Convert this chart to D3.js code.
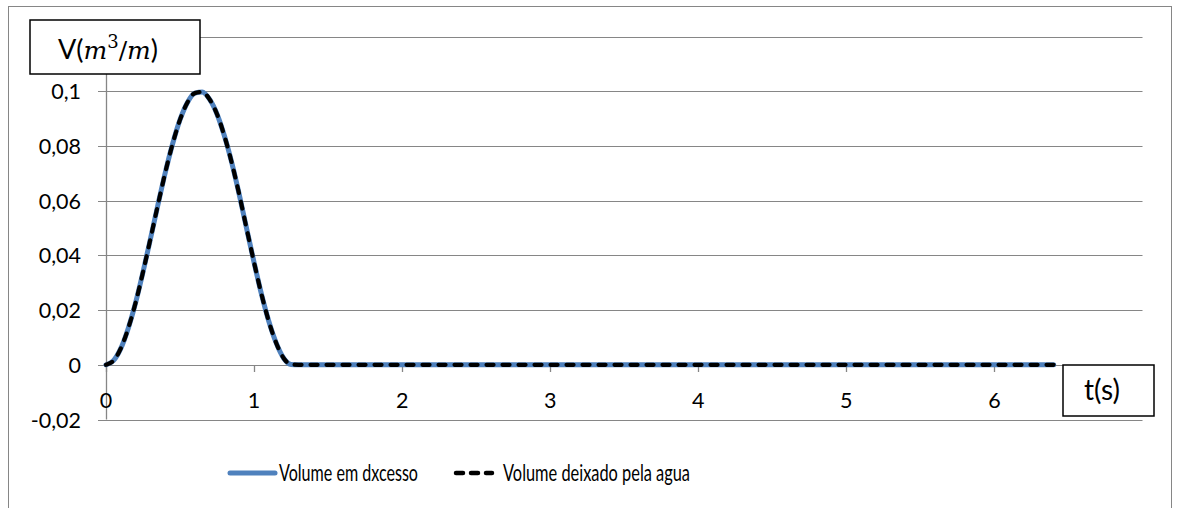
<!DOCTYPE html>
<html><head><meta charset="utf-8">
<script src="https://cdn.jsdelivr.net/npm/d3@7"></script>
<style>html,body{margin:0;padding:0;background:#fff;}svg{display:block;}</style>
</head><body>
<svg id="c" width="1178" height="508"></svg>
<script>
const times = [0,0.05,0.1,0.15,0.2,0.25,0.3,0.35,0.4,0.45,0.5,0.55,0.6,0.65,0.7,0.75,0.8,0.85,0.9,0.95,1.0,1.05,1.1,1.15,1.2,1.25,1.3,1.5,2,2.5,3,3.5,4,4.5,5,5.5,6,6.4];
const volumeExcesso = [0,0.0015,0.006,0.0133,0.0227,0.0339,0.046,0.0583,0.0702,0.0808,0.0896,0.0959,0.0993,0.0997,0.097,0.0916,0.0836,0.0737,0.0622,0.0497,0.0374,0.0258,0.0158,0.0079,0.0024,0.0001,0,0,0,0,0,0,0,0,0,0,0,0];
const volumeDeixado = [0,0.0015,0.006,0.0133,0.0227,0.0339,0.046,0.0583,0.0702,0.0808,0.0896,0.0959,0.0993,0.0997,0.097,0.0916,0.0836,0.0737,0.0622,0.0497,0.0374,0.0258,0.0158,0.0079,0.0024,0.0001,0,0,0,0,0,0,0,0,0,0,0,0];
const yTicks = [-0.02,0,0.02,0.04,0.06,0.08,0.1,0.12];
const yTickLabels = ["-0,02","0","0,02","0,04","0,06","0,08","0,1",""];
const xTicks = [0,1,2,3,4,5,6,7];
const xTickLabels = ["0","1","2","3","4","5","6",""];
const seriesNames = ["Volume em dxcesso","Volume deixado pela agua"];

const svg = d3.select("#c");
const grid = "#868686";
const font = "Lato, 'Open Sans', sans-serif";

// outer chart border
svg.append("rect").attr("x",8.5).attr("y",6.5).attr("width",1163).attr("height",520)
  .attr("fill","none").attr("stroke",grid).attr("stroke-width",1);

const x = d3.scaleLinear().domain([0,7]).range([106,1142.5]);
const y = d3.scaleLinear().domain([-0.02,0.12]).range([419.5,36.5]);

// horizontal gridlines with left tick marks
svg.append("g").selectAll("line").data(yTicks).join("line")
  .attr("x1",98).attr("x2",x(7))
  .attr("y1",d=>Math.round(y(d))+0.5).attr("y2",d=>Math.round(y(d))+0.5)
  .attr("stroke",grid).attr("stroke-width",1.2);
// vertical axis
svg.append("line").attr("x1",106.5).attr("x2",106.5).attr("y1",y(0.12)).attr("y2",y(-0.02))
  .attr("stroke",grid).attr("stroke-width",1.3);
// x tick marks
svg.append("g").selectAll("line").data(xTicks).join("line")
  .attr("x1",d=>Math.round(x(d))+0.5).attr("x2",d=>Math.round(x(d))+0.5)
  .attr("y1",Math.round(y(0))).attr("y2",Math.round(y(0))+7)
  .attr("stroke",grid).attr("stroke-width",1.3);

// y tick labels
svg.append("g").selectAll("text").data(yTicks.filter((d,i)=>yTickLabels[i])).join("text")
  .attr("x",81).attr("y",d=>y(d)+8).attr("text-anchor","end")
  .attr("font-family",font).attr("font-size",21.5).attr("fill","#000")
  .text(d=>yTickLabels[yTicks.indexOf(d)]);
// x tick labels (low position)
svg.append("g").selectAll("text").data(xTicks.filter((d,i)=>xTickLabels[i])).join("text")
  .attr("x",d=>x(d)).attr("y",408).attr("text-anchor","middle")
  .attr("font-family",font).attr("font-size",21.5).attr("fill","#000")
  .text(d=>xTickLabels[xTicks.indexOf(d)]);

// series
const pts1 = times.map((t,i)=>[t,volumeExcesso[i]]);
const pts2 = times.map((t,i)=>[t,volumeDeixado[i]]);
const line = d3.line().x(d=>x(d[0])).y(d=>y(d[1])).curve(d3.curveMonotoneX);
svg.append("path").attr("d",line(pts1)).attr("fill","none")
  .attr("stroke","#4F81BD").attr("stroke-width",5).attr("stroke-linecap","round");
svg.append("path").attr("d",line(pts2)).attr("fill","none")
  .attr("stroke","#000").attr("stroke-width",4.2).attr("stroke-linecap","round")
  .attr("stroke-dasharray","7,9");

// Y label box
svg.append("rect").attr("x",30).attr("y",20).attr("width",170).attr("height",54)
  .attr("fill","#fff").attr("stroke","#000").attr("stroke-width",1.5);
const yl = svg.append("text").attr("x",108).attr("y",59).attr("text-anchor","middle")
  .attr("font-family",font).attr("font-size",27).attr("fill","#000");
yl.append("tspan").text("V(");
yl.append("tspan").attr("font-family","'DejaVu Serif', serif").attr("font-style","italic").attr("font-size",25).text("m");
yl.append("tspan").attr("font-family","'DejaVu Serif', serif").attr("font-size",18).attr("dy",-11).text("3");
yl.append("tspan").attr("font-family","'DejaVu Serif', serif").attr("font-size",25).attr("dy",11).text("/");
yl.append("tspan").attr("font-family","'DejaVu Serif', serif").attr("font-style","italic").attr("font-size",25).text("m");
yl.append("tspan").text(")");

// t(s) box
svg.append("rect").attr("x",1063).attr("y",365).attr("width",91).attr("height",51)
  .attr("fill","#fff").attr("stroke","#000").attr("stroke-width",1.5);
svg.append("text").attr("x",1102).attr("y",400).attr("text-anchor","middle")
  .attr("font-family",font).attr("font-size",28).attr("fill","#000").text("t(s)");

// legend
const lg = svg.append("g");
lg.append("line").attr("x1",230).attr("x2",275).attr("y1",473).attr("y2",473)
  .attr("stroke","#4F81BD").attr("stroke-width",5).attr("stroke-linecap","round");
lg.append("text").attr("x",279).attr("y",481).attr("font-family",font).attr("font-size",22.5)
  .attr("textLength",139).attr("lengthAdjust","spacingAndGlyphs").text(seriesNames[0]);
lg.append("line").attr("x1",456).attr("x2",492).attr("y1",473).attr("y2",473)
  .attr("stroke","#000").attr("stroke-width",4.5).attr("stroke-linecap","round")
  .attr("stroke-dasharray","7,8");
lg.append("text").attr("x",503).attr("y",481).attr("font-family",font).attr("font-size",22.5)
  .attr("textLength",187).attr("lengthAdjust","spacingAndGlyphs").text(seriesNames[1]);
</script>
</body></html>
